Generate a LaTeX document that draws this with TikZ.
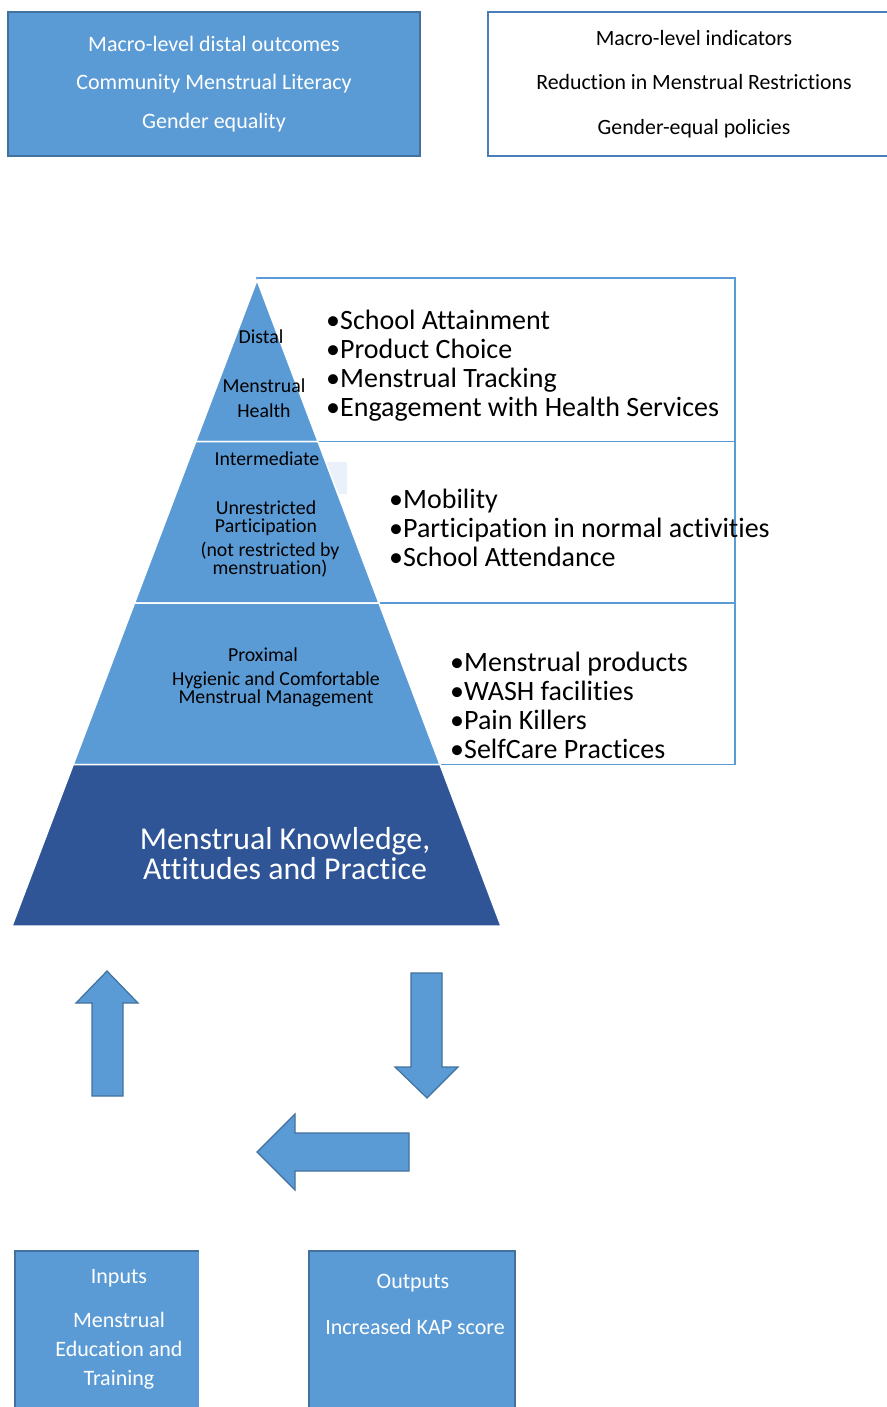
\documentclass[tikz,border=0pt]{standalone}
\usepackage{fontspec}
\setmainfont{Carlito}[RawFeature={-liga}]
\usepackage{xcolor}
\usepackage{tikz}
\usetikzlibrary{calc}
\definecolor{boxblue}{HTML}{5B9BD5}
\definecolor{edgeblue}{HTML}{41719C}
\definecolor{lineblue}{HTML}{4A7EBB}
\definecolor{darkblue}{HTML}{2F5597}
\definecolor{paleblue}{HTML}{EAF1FA}
\tikzset{
	bluebox/.style={draw=edgeblue, fill=boxblue, line width=1.2pt},
	outlinebox/.style={draw=boxblue, line width=1.5pt},
	level/.style={fill=boxblue, draw=white, line width=1.5pt},
	whitetext/.style={text=white, align=center, inner sep=0pt},
	leveltext/.style={text=black, align=center, inner sep=0pt},
	bullets/.style={text=black, align=left, anchor=west, inner sep=0pt, font=\fontsize{28}{29}\selectfont},
}

\begin{document}
\begin{tikzpicture}[x=1pt, y=-1pt]
			\useasboundingbox (0,0) rectangle (886,1407);
			\draw[bluebox] (8,12) rectangle (420,156);
			\node[whitetext, font=\fontsize{22}{38.5}\selectfont] (macro) at (214,84)
				{Macro-level distal outcomes\\Community Menstrual Literacy\\Gender equality};
			\draw[draw=lineblue, line width=1.2pt] (895,156) -- (488,156) -- (488,12) -- (895,12);
			\node[leveltext, font=\fontsize{21.8}{44.5}\selectfont] (indicators) at (694,84)
				{Macro-level indicators\\Reduction in Menstrual Restrictions\\Gender-equal policies};
			\draw[outlinebox] (257,278) rectangle (735,441.5);
			\draw[outlinebox] (257,441.5) rectangle (735,603);
			\draw[outlinebox] (257,603) rectangle (735,764.5);
			\fill[paleblue] (318,462) rectangle (347,494);
			\coordinate (apex) at (257,280);
			\coordinate (baseL) at (12,926);
			\coordinate (baseR) at (501,926);
			\foreach \a/\b in {0/0.25, 0.25/0.5, 0.5/0.75}
				\filldraw[level] ($(apex)!\a!(baseL)$) -- ($(apex)!\a!(baseR)$) -- ($(apex)!\b!(baseR)$) -- ($(apex)!\b!(baseL)$) -- cycle;
			\filldraw[level, fill=darkblue] ($(apex)!0.75!(baseL)$) -- ($(apex)!0.75!(baseR)$) -- (baseR) -- (baseL) -- cycle;
			\node[leveltext, font=\fontsize{19.8}{25}\selectfont] (distal) at (261,337) {Distal};
			\node[leveltext, font=\fontsize{19.8}{25}\selectfont] (health) at (264,398) {Menstrual\\Health};
			\node[leveltext, font=\fontsize{19.8}{18}\selectfont] (intermediate) at (267,459) {Intermediate};
			\node[leveltext, font=\fontsize{19.8}{18}\selectfont] (participation) at (266,518) {Unrestricted\\Participation};
			\node[leveltext, font=\fontsize{19.8}{18}\selectfont] (notrestricted) at (270,560) {(not restricted by\\menstruation)};
			\node[leveltext, font=\fontsize{19.8}{18}\selectfont] (proximal) at (263,655) {Proximal};
			\node[leveltext, font=\fontsize{19.8}{18}\selectfont] (hygienic) at (276,689) {Hygienic and Comfortable\\Menstrual Management};
			\node[whitetext, font=\fontsize{31.8}{30}\selectfont] (kap) at (285,854) {Menstrual Knowledge,\\Attitudes and Practice};
			\node[bullets] (distallist) at (326,366)
				{\textbullet School Attainment\\\textbullet Product Choice\\\textbullet Menstrual Tracking\\\textbullet Engagement with Health Services};
			\node[bullets] (intermediatelist) at (389,528)
				{\textbullet Mobility\\\textbullet Participation in normal activities\\\textbullet School Attendance};
			\node[bullets] (proximallist) at (450,705)
				{\textbullet Menstrual products\\\textbullet WASH facilities\\\textbullet Pain Killers\\\textbullet SelfCare Practices};
			\filldraw[bluebox] (92,1096) -- (92,1003) -- (76,1003) -- (107,971) -- (138,1003) -- (123,1003) -- (123,1096) -- cycle;
			\filldraw[bluebox] (411,973) -- (442,973) -- (442,1067) -- (458,1067) -- (427,1098) -- (395,1067) -- (411,1067) -- cycle;
			\filldraw[bluebox] (409,1133) -- (295,1133) -- (295,1114) -- (257,1152) -- (295,1190) -- (295,1171) -- (409,1171) -- cycle;
			\fill[boxblue] (15,1251) rectangle (199,1412);
			\draw[edgeblue, line width=1.2pt] (15,1412) -- (15,1251) -- (199,1251);
			\node[whitetext, font=\fontsize{22}{29}\selectfont] (inputs) at (119,1278) {Inputs};
			\node[whitetext, font=\fontsize{22}{29}\selectfont] (education) at (119,1351) {Menstrual\\Education and\\Training};
			\draw[bluebox] (309,1251) rectangle (515,1412);
			\node[whitetext, font=\fontsize{22}{29}\selectfont] (outputs) at (413,1283) {Outputs};
			\node[whitetext, font=\fontsize{22}{29}\selectfont] (kapscore) at (415,1327) {Increased KAP score};
		\end{tikzpicture}
\end{document}
